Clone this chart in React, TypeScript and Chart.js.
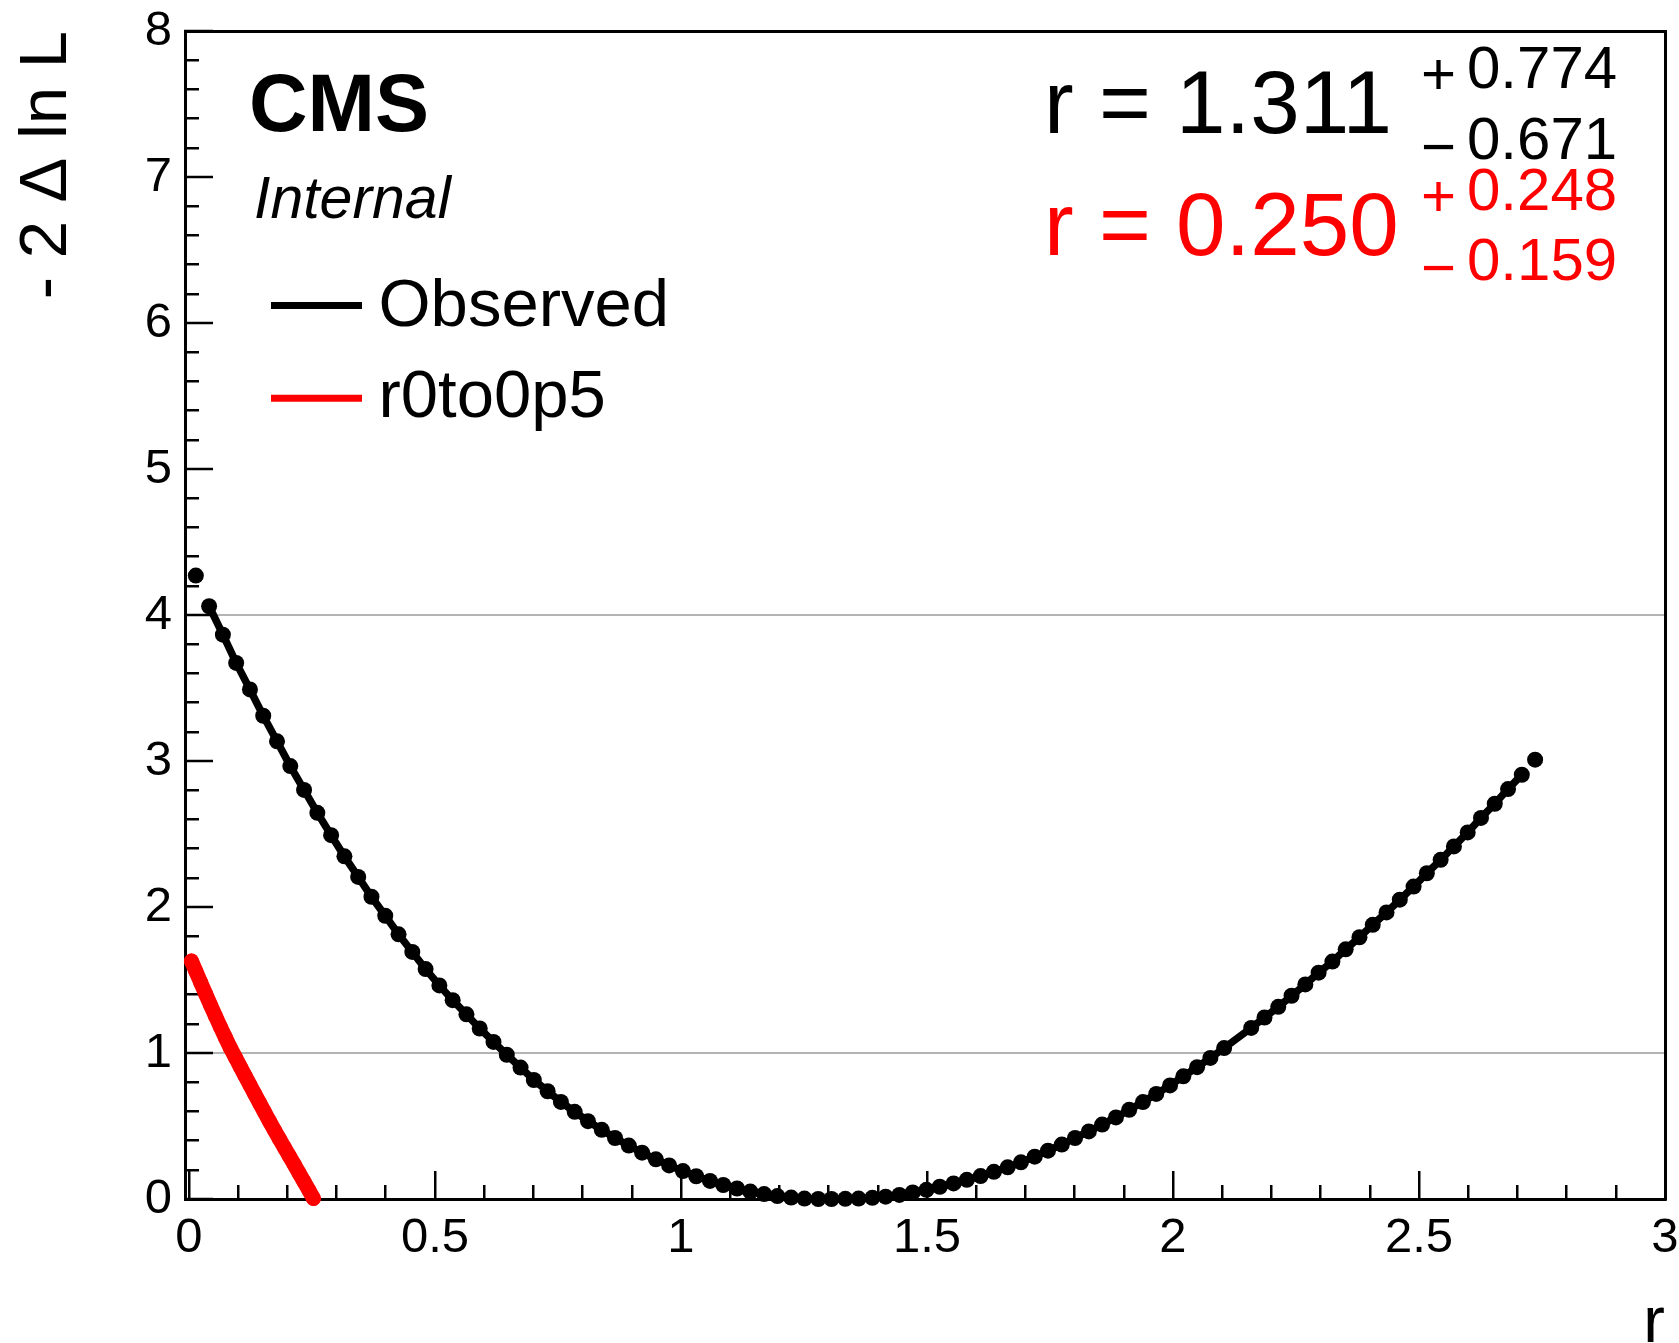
import React, { useEffect, useRef } from 'react';
import { Chart, registerables } from 'chart.js';

Chart.register(...registerables);

const FONT = '"Liberation Sans", Arial, Helvetica, sans-serif';

// ---- data ----
const R_OBS = [
  0.014, 0.041, 0.069, 0.096, 0.124, 0.151, 0.179, 0.206, 0.234, 0.261,
  0.289, 0.316, 0.344, 0.371, 0.399, 0.426, 0.454, 0.481, 0.509, 0.536,
  0.564, 0.591, 0.619, 0.646, 0.674, 0.701, 0.729, 0.756, 0.784, 0.811,
  0.839, 0.866, 0.894, 0.921, 0.949, 0.976, 1.004, 1.031, 1.059, 1.086,
  1.114, 1.141, 1.169, 1.196, 1.224, 1.251, 1.279, 1.306, 1.334, 1.361,
  1.389, 1.416, 1.444, 1.471, 1.499, 1.526, 1.554, 1.581, 1.609, 1.636,
  1.664, 1.691, 1.719, 1.746, 1.774, 1.801, 1.829, 1.856, 1.884, 1.911,
  1.939, 1.966, 1.994, 2.021, 2.049, 2.076, 2.104, 2.159, 2.186,
  2.214, 2.241, 2.269, 2.296, 2.324, 2.351, 2.379, 2.406, 2.434, 2.461,
  2.489, 2.516, 2.544, 2.571, 2.599, 2.626, 2.654, 2.681, 2.709, 2.736,
];
const NLL_OBS = [
  4.27, 4.06, 3.865, 3.672, 3.49, 3.31, 3.135, 2.965, 2.802, 2.645,
  2.492, 2.347, 2.206, 2.07, 1.94, 1.813, 1.692, 1.575, 1.463, 1.362,
  1.265, 1.168, 1.076, 0.988, 0.9, 0.815, 0.738, 0.665, 0.597, 0.533,
  0.474, 0.418, 0.366, 0.317, 0.272, 0.23, 0.191, 0.156, 0.124, 0.096,
  0.072, 0.051, 0.034, 0.02, 0.01, 0.003, 0.0, 0.0, 0.001, 0.003,
  0.008, 0.016, 0.028, 0.045, 0.063, 0.084, 0.107, 0.131, 0.157, 0.186,
  0.217, 0.251, 0.29, 0.331, 0.373, 0.418, 0.463, 0.51, 0.559, 0.611,
  0.664, 0.72, 0.778, 0.84, 0.903, 0.966, 1.034, 1.172, 1.243,
  1.316, 1.392, 1.47, 1.55, 1.626, 1.71, 1.793, 1.878, 1.963, 2.05,
  2.14, 2.231, 2.323, 2.415, 2.511, 2.61, 2.707, 2.808, 2.906, 3.009,
];

const R_RED = [
  0.005, 0.014, 0.024, 0.034, 0.044, 0.054, 0.064, 0.074, 0.084, 0.094,
  0.104, 0.114, 0.124, 0.134, 0.144, 0.154, 0.164, 0.174, 0.184, 0.194,
  0.204, 0.214, 0.224, 0.234, 0.244, 0.253,
];
const NLL_RED = [
  1.63, 1.56, 1.482, 1.404, 1.327, 1.252, 1.178, 1.106, 1.036, 0.972,
  0.908, 0.844, 0.781, 0.718, 0.655, 0.592, 0.53, 0.47, 0.411, 0.352,
  0.294, 0.236, 0.177, 0.118, 0.059, 0.004,
];

// ---- axes ----
const X_MIN = -0.008;
const X_MAX = 3;
const Y_MIN = 0;
const Y_MAX = 8;
const X_MAJOR = [0, 0.5, 1, 1.5, 2, 2.5, 3];
const X_LABELS = ['0', '0.5', '1', '1.5', '2', '2.5', '3'];
const Y_MAJOR = [0, 1, 2, 3, 4, 5, 6, 7, 8];
const Y_LABELS = ['0', '1', '2', '3', '4', '5', '6', '7', '8'];
const REF_LINES = [1, 4];
const X_TITLE = 'r';
const Y_TITLE = '- 2 \u0394 ln L';

// ---- texts ----
const LEGEND_ITEMS = [
  { label: 'Observed', color: '#000000' },
  { label: 'r0to0p5', color: '#ff0000' },
];
const FITS = [
  { value: '1.311', up: '0.774', down: '0.671', color: '#000000' },
  { value: '0.250', up: '0.248', down: '0.159', color: '#ff0000' },
];

const X_MINOR: number[] = [];
for (let k = 1; k < 30; k++) if (k % 5 !== 0) X_MINOR.push(k / 10);
const Y_MINOR: number[] = [];
for (let k = 1; k < 40; k++) if (k % 5 !== 0) Y_MINOR.push(k / 5);

const zeroPad = (s: any) => {
  s.paddingLeft = 0;
  s.paddingRight = 0;
  s.paddingTop = 0;
  s.paddingBottom = 0;
};

const textPlugin = {
  id: 'rootTexts',
  afterDraw(chart: any) {
    const { ctx, chartArea } = chart;
    const L = chartArea.left;
    const T = chartArea.top;
    ctx.save();
    ctx.textAlign = 'left';
    ctx.textBaseline = 'alphabetic';

    ctx.fillStyle = '#000';
    ctx.font = `bold 81px ${FONT}`;
    ctx.fillText('CMS', L + 64, T + 100);
    ctx.font = `italic 59px ${FONT}`;
    ctx.fillText('Internal', L + 69, T + 187);

    // legend
    LEGEND_ITEMS.forEach((it, i) => {
      const yc = T + 274.5 + i * 92.8;
      ctx.strokeStyle = it.color;
      ctx.lineWidth = 7;
      ctx.lineCap = 'butt';
      ctx.beginPath();
      ctx.moveTo(L + 86, yc);
      ctx.lineTo(L + 177, yc);
      ctx.stroke();
      ctx.fillStyle = '#000';
      ctx.font = `67px ${FONT}`;
      ctx.fillText(it.label, L + 193.5, T + 295 + i * 90.5);
    });

    // fit results
    FITS.forEach((f, i) => {
      const dy = i * 122;
      ctx.fillStyle = f.color;
      ctx.font = `89px ${FONT}`;
      ctx.fillText('r', L + 859, T + 102 + dy);
      ctx.fillText('=', L + 914, T + 102 + dy);
      ctx.fillText(f.value, L + 991, T + 102 + dy);
      ctx.font = `60px ${FONT}`;
      ctx.fillText('+', L + 1236, T + 63 + dy);
      ctx.fillText(f.up, L + 1282, T + 56.5 + dy);
      ctx.fillText('\u2212', L + 1236, T + 136 + dy - (i ? 1 : 0));
      ctx.fillText(f.down, L + 1282, T + 128 + dy - (i ? 1 : 0));
    });
    ctx.restore();
  },
};

export default function App() {
  const ref = useRef<HTMLCanvasElement>(null);

  useEffect(() => {
    document.body.style.margin = '0';
    const canvas = ref.current;
    if (!canvas) return;

    const tickFont = { family: FONT, size: 49 };

    const chart = new Chart(canvas, {
      type: 'scatter',
      data: {
        datasets: [
          {
            label: LEGEND_ITEMS[0].label,
            data: R_OBS.map((x, i) => ({ x, y: NLL_OBS[i] })),
            showLine: true,
            borderColor: '#000000',
            borderWidth: 7.5,
            pointRadius: 8,
            pointBackgroundColor: '#000000',
            pointBorderColor: '#000000',
            pointBorderWidth: 0,
            tension: 0,
            clip: false,
            segment: {
              borderColor: (c: any) =>
                c.p0DataIndex === 0 || c.p1DataIndex === R_OBS.length - 1
                  ? 'rgba(0,0,0,0)'
                  : '#000000',
            },
          } as any,
          {
            label: LEGEND_ITEMS[1].label,
            data: R_RED.map((x, i) => ({ x, y: NLL_RED[i] })),
            showLine: true,
            borderColor: '#ff0000',
            borderWidth: 15,
            borderCapStyle: 'round',
            borderJoinStyle: 'round',
            pointRadius: 7.5,
            pointBackgroundColor: '#ff0000',
            pointBorderWidth: 0,
            tension: 0,
            clip: false,
          } as any,
        ],
      },
      options: {
        responsive: false,
        animation: false,
        events: [],
        layout: { padding: { top: 31, right: 14, left: 0, bottom: 0 } },
        plugins: {
          legend: { display: false },
          tooltip: { enabled: false },
          title: { display: false },
        },
        scales: {
          x: {
            type: 'linear',
            position: 'bottom',
            min: X_MIN,
            max: X_MAX,
            weight: 1,
            afterBuildTicks: (s: any) => {
              s.ticks = X_MAJOR.map((v) => ({ value: v }));
            },
            afterFit: (s: any) => {
              s.height = 144;
              zeroPad(s);
            },
            ticks: {
              autoSkip: false,
              maxRotation: 0,
              minRotation: 0,
              padding: 38,
              color: '#000',
              font: tickFont,
              callback: (_v: any, i: number) => X_LABELS[i],
            },
            grid: {
              drawOnChartArea: false,
              drawTicks: true,
              tickLength: -28,
              tickColor: '#000',
              tickWidth: 2.5,
              lineWidth: 2.5,
              color: '#000',
            },
            border: { display: true, color: '#000', width: 3 },
            title: {
              display: true,
              text: X_TITLE,
              align: 'end',
              color: '#000',
              font: { family: FONT, size: 65, lineHeight: 0.59 },
              padding: 0,
            },
          },
          xMinor: {
            type: 'linear',
            position: 'bottom',
            min: X_MIN,
            max: X_MAX,
            weight: 0,
            afterBuildTicks: (s: any) => {
              s.ticks = X_MINOR.map((v) => ({ value: v }));
            },
            afterFit: (s: any) => {
              s.height = 0;
              zeroPad(s);
            },
            ticks: { display: false, autoSkip: false },
            grid: {
              drawOnChartArea: false,
              drawTicks: true,
              tickLength: -14,
              tickColor: '#000',
              tickWidth: 2.5,
              lineWidth: 2.5,
            },
            border: { display: false },
          },
          xTop: {
            type: 'linear',
            position: 'top',
            min: X_MIN,
            max: X_MAX,
            afterFit: (s: any) => {
              s.height = 0;
              zeroPad(s);
            },
            ticks: { display: false },
            grid: { drawOnChartArea: false, drawTicks: false },
            border: { display: true, color: '#000', width: 3 },
          },
          y: {
            type: 'linear',
            position: 'left',
            min: Y_MIN,
            max: Y_MAX,
            weight: 1,
            afterBuildTicks: (s: any) => {
              s.ticks = Y_MAJOR.map((v) => ({ value: v }));
            },
            afterFit: (s: any) => {
              s.width = 185;
              zeroPad(s);
            },
            ticks: {
              autoSkip: false,
              padding: 41,
              color: '#000',
              font: tickFont,
              callback: (_v: any, i: number) => Y_LABELS[i],
            },
            grid: {
              drawOnChartArea: true,
              drawTicks: true,
              tickLength: -28,
              color: (c: any) =>
                c.tick && REF_LINES.includes(c.tick.value) ? '#b4b4b4' : 'rgba(0,0,0,0)',
              lineWidth: 2,
              tickColor: '#000',
              tickWidth: 2.5,
            },
            border: { display: true, color: '#000', width: 3 },
            title: {
              display: true,
              text: Y_TITLE,
              align: 'end',
              color: '#000',
              font: { family: FONT, size: 67, lineHeight: 1.2 },
              padding: { top: 7, bottom: 0 },
            },
          },
          yMinor: {
            type: 'linear',
            position: 'left',
            min: Y_MIN,
            max: Y_MAX,
            weight: 0,
            afterBuildTicks: (s: any) => {
              s.ticks = Y_MINOR.map((v) => ({ value: v }));
            },
            afterFit: (s: any) => {
              s.width = 0;
              zeroPad(s);
            },
            ticks: { display: false, autoSkip: false },
            grid: {
              drawOnChartArea: false,
              drawTicks: true,
              tickLength: -14,
              tickColor: '#000',
              tickWidth: 2.5,
              lineWidth: 2.5,
            },
            border: { display: false },
          },
          yRight: {
            type: 'linear',
            position: 'right',
            min: Y_MIN,
            max: Y_MAX,
            afterFit: (s: any) => {
              s.width = 0;
              zeroPad(s);
            },
            ticks: { display: false },
            grid: { drawOnChartArea: false, drawTicks: false },
            border: { display: true, color: '#000', width: 3 },
          },
        },
      } as any,
      plugins: [textPlugin],
    });

    return () => chart.destroy();
  }, []);

  return (
    <div style={{ width: 1679, height: 1343, background: '#fff' }}>
      <canvas ref={ref} width={1679} height={1343} style={{ display: 'block' }} />
    </div>
  );
}
